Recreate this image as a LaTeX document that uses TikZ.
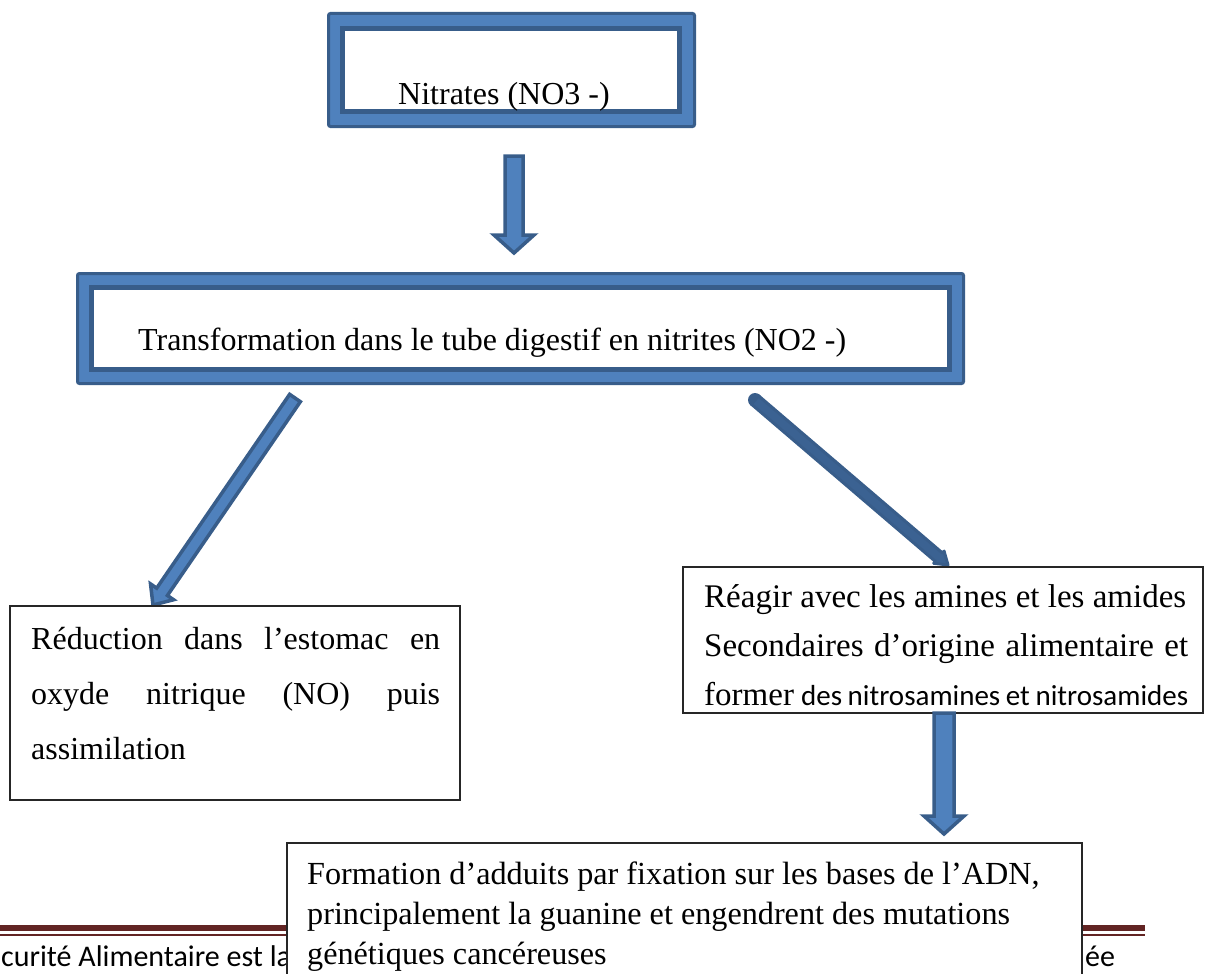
\documentclass[tikz,border=0pt]{standalone}
\usepackage{fontspec}
\setmainfont{Liberation Serif}
\newfontfamily\calfont{Carlito}
\usetikzlibrary{calc}
\definecolor{bdark}{HTML}{385D8A}
\definecolor{blight}{HTML}{4F81BD}
\definecolor{fred}{HTML}{622423}
\newcommand\blockarr[6]{%
  \coordinate (ba-h) at ($(#2)!#5!(#1)$);
  \filldraw[#6] ($(#1)!#3!90:(#2)$) -- ($(ba-h)!#3!90:(#2)$) -- ($(ba-h)!#4!90:(#2)$) -- (#2) -- ($(ba-h)!#4!-90:(#2)$) -- ($(ba-h)!#3!-90:(#2)$) -- ($(#1)!#3!-90:(#2)$) -- cycle;}
\tikzset{
  outerbox/.style={draw=bdark, fill=blight, line width=3pt, rounded corners=2pt, inner sep=0pt},
  innerbox/.style={draw=bdark, fill=white, line width=5pt, inner sep=0pt},
  plainbox/.style={draw=black!85, fill=white, line width=1.4pt, inner sep=0pt},
  barrow/.style={fill=blight, draw=bdark, line width=3.5pt, line join=miter},
  darrow/.style={fill=bdark!85!blight, draw=bdark, line width=3pt, line join=round},
  txt/.style={anchor=base west, inner sep=0pt, font=\fontsize{32}{38}\selectfont},
  ftxt/.style={anchor=base west, inner sep=0pt, font=\calfont\fontsize{30}{36}\selectfont},
}
\begin{document}
\begin{tikzpicture}[x=1pt,y=-1pt]
\useasboundingbox (0,0) rectangle (1223,974);
\clip (0,0) rectangle (1223,974);
% top box
\node[outerbox, minimum width=366pt, minimum height=113pt] (n3o) at (511.5,70) {};
\node[innerbox, minimum width=337pt, minimum height=83pt] (n3i) at (511,70) {};
\node[txt] (n3t) at (398,104) {Nitrates (NO3 -)};
% transformation box
\node[outerbox, minimum width=886pt, minimum height=110pt] (n2o) at (520.5,328.5) {};
\node[innerbox, minimum width=858pt, minimum height=82pt] (n2i) at (520.5,328.5) {};
\node[txt] (n2t) at (138,350) {Transformation dans le tube digestif en nitrites (NO2 -)};
% arrows
\coordinate (a1s) at (514,156); \coordinate (a1e) at (514,253);
\blockarr{a1s}{a1e}{9pt}{20pt}{18pt}{barrow}
\coordinate (a2s) at (295,398); \coordinate (a2e) at (153,605);
\blockarr{a2s}{a2e}{6.5pt}{14pt}{16pt}{barrow}
\coordinate (a3s) at (755,400); \coordinate (a3e) at (948,565);
\fill[bdark] (a3s) circle (7pt);
\blockarr{a3s}{a3e}{5.5pt}{8pt}{12pt}{darrow}
% reduction box
\node[plainbox, minimum width=450pt, minimum height=194pt] (red) at (235,703) {};
\node[txt] (red1) at (31,649) {\makebox[409pt][s]{Réduction dans l’estomac en}};
\node[txt] (red2) at (31,704) {\makebox[409pt][s]{oxyde nitrique (NO) puis}};
\node[txt] (red3) at (31,759) {assimilation};
% reagir box
\node[plainbox, minimum width=520pt, minimum height=146pt] (rea) at (943,640) {};
\node[txt, font=\fontsize{33}{38}\selectfont] (rea1) at (704,607) {Réagir avec les amines et les amides};
\node[txt, font=\fontsize{33}{38}\selectfont] (rea2) at (704,656) {\makebox[484pt][s]{Secondaires d’origine alimentaire et}};
\node[txt, font=\fontsize{33}{38}\selectfont] (rea3) at (704,705) {\makebox[484pt][s]{former {\calfont\fontsize{29}{34}\selectfont des nitrosamines et nitrosamides}}};
\coordinate (a4s) at (944,713); \coordinate (a4e) at (944,834);
\blockarr{a4s}{a4e}{10pt}{20pt}{18pt}{barrow}
% footer
\coordinate (fl1) at (0,927.5); \coordinate (fr1) at (1145,927.5);
\coordinate (fl2) at (0,935); \coordinate (fr2) at (1145,935);
\draw[fred, line width=6pt] (fl1) -- (fr1);
\draw[fred, line width=1.5pt] (fl2) -- (fr2);
\node[ftxt] (ft1) at (1,966) {curité Alimentaire est la};
\node[ftxt] (ft2) at (1085,966) {ée};
% bottom box
\node[plainbox, minimum width=795pt, minimum height=140pt] (form) at (684.5,913) {};
\node[txt, font=\fontsize{32.2}{38}\selectfont] (f1) at (307,884) {Formation d’adduits par fixation sur les bases de l’ADN,};
\node[txt, font=\fontsize{32.2}{38}\selectfont] (f2) at (307,924) {principalement la guanine et engendrent des mutations};
\node[txt, font=\fontsize{32.2}{38}\selectfont] (f3) at (307,964) {génétiques cancéreuses};
\end{tikzpicture}
\end{document}
